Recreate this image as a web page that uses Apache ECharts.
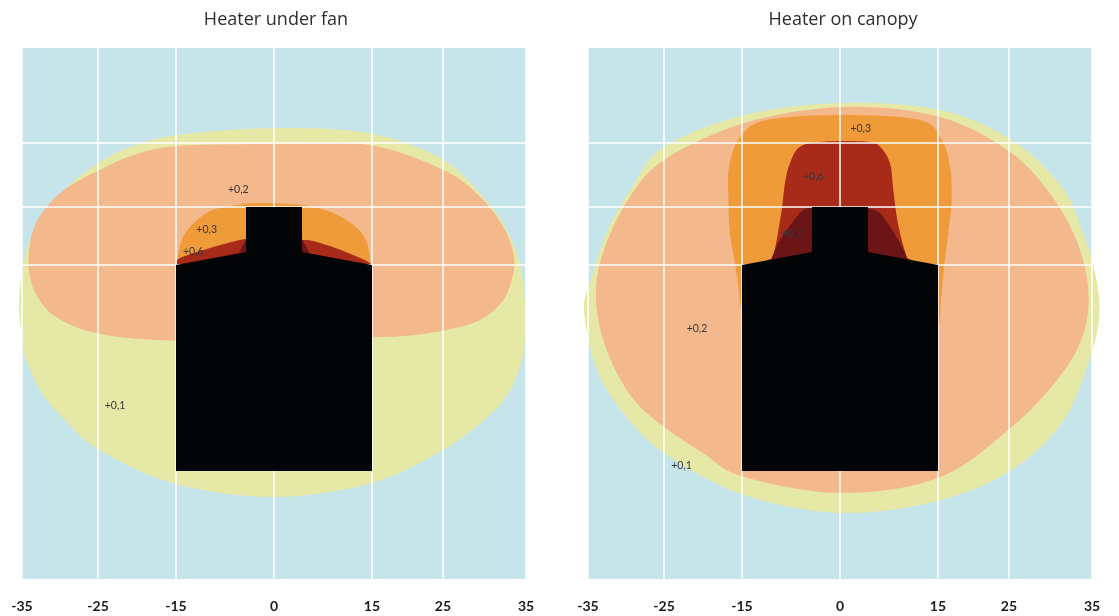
<!DOCTYPE html>
<html>
<head>
<meta charset="utf-8">
<script src="https://cdn.jsdelivr.net/npm/echarts@6/dist/echarts.min.js"></script>
<style>html,body{margin:0;padding:0;background:#fff}#c{width:1119px;height:616px}</style>
</head>
<body>
<div id="c"></div>
<script>
// ---------- data ----------
const panelTitles = ['Heater under fan', 'Heater on canopy'];
const xTickLabels = ['-35', '-25', '-15', '0', '15', '25', '35'];
const xTickValues = [-35, -24.44, -13.61, 0, 13.61, 23.47, 35];
const yGridValues = [43.61, 51.67, 60.56];

const bodyOutline = [[-13.61, 43.61], [-3.89, 45.42], [-3.89, 51.67], [3.89, 51.67], [3.89, 45.42], [13.61, 43.61], [13.61, 15.0], [-13.61, 15.0]];

// Heater under fan
const fanLevel01 = [[0.14, 62.64], [13.33, 61.9], [23.51, 58.19], [30, 51.94], [32.78, 47.54], [34.17, 43.85], [34.72, 39.68], [35, 35.97], [34.44, 30.42], [32.78, 26.25], [30, 22.78], [23.47, 17.92], [13.61, 13.33], [0.14, 11.39], [-13.61, 13.19], [-24.44, 18.06], [-29.72, 22.78], [-32.5, 26.25], [-34.72, 31.35], [-35.18, 35.04], [-35.42, 37.82], [-35.18, 41.53], [-34.49, 45.24], [-33.33, 48.47], [-31.49, 51.49], [-28.71, 54.49], [-24.44, 57.74], [-19.9, 60.04], [-13.43, 61.67]];
const fanLevel02 = [[-13.47, 60.14], [0.14, 60.42], [13.33, 60.28], [23.51, 56.81], [28.61, 53.1], [31.85, 48.93], [33.24, 45.24], [33.24, 42.46], [31.85, 38.75], [28.61, 35.97], [23.51, 34.49], [17.96, 33.75], [13.33, 33.57], [0.14, 33.19], [-13.43, 33.1], [-19.9, 33.43], [-24.44, 34.13], [-28.24, 35.28], [-31.49, 37.36], [-33.33, 40.14], [-34.03, 42.92], [-34.03, 45.24], [-33.47, 48.47], [-32.08, 51.03], [-29.72, 53.61], [-26.94, 55.42], [-24.44, 56.67], [-19.86, 58.75]];
const fanLevel03 = [[-13.25, 42.5], [-13.51, 43.89], [-12.64, 47.5], [-10.69, 49.86], [-8.47, 51.25], [-5.14, 51.94], [-1.94, 52.22], [4.03, 51.94], [8.19, 50.83], [11.53, 48.75], [12.92, 46.67], [13.33, 44.31], [13.47, 43.19], [13.25, 42.5], [11, 39], [0.14, 38], [-11, 39]];
const fanLevel06 = [[-13.25, 42.9], [-13.51, 43.61], [-13.06, 44.58], [-8.89, 45.97], [-4.72, 47.08], [-3.33, 47.08], [0.14, 46.0], [4.03, 47.08], [7.32, 46.39], [10.97, 45.0], [13.33, 43.89], [13.47, 43.33], [13.25, 42.9], [11, 40.5], [0.14, 40], [-11, 40.5]];
const fanLevel07a = [[-4.86, 45.3], [-3.89, 47.2], [-3.89, 45.42]];
const fanLevel07b = [[3.89, 47.2], [5.0, 45.2], [3.89, 45.42]];
const fanLabels = [[-4.96, 54.03, '+0,2'], [-9.35, 48.57, '+0,3'], [-11.21, 45.46, '+0,6'], [-22.08, 24.07, '+0,1']];

// Heater on canopy
const canopyLevel01 = [[0.42, 66.11], [13.89, 65.14], [23.83, 60.97], [30.81, 54.44], [33.75, 48.06], [35.56, 41.94], [35.97, 35.97], [34.31, 29.44], [30.83, 21.67], [23.83, 15.14], [13.97, 10.97], [0.42, 9.17], [-13.33, 11.67], [-24.44, 17.5], [-30.42, 23.47], [-33.89, 29.44], [-35.56, 37.36], [-34.44, 41.94], [-32.42, 48.06], [-28.89, 54.44], [-24.44, 60], [-13.25, 64.44]];
const canopyLevel02 = [[0.42, 65.56], [13.89, 64.17], [23.83, 59.17], [29.81, 52.64], [33.33, 45.69], [34.54, 38.75], [33.33, 32.78], [29.81, 27.22], [23.83, 21.11], [13.97, 14.17], [0.42, 11.94], [-13.33, 14.17], [-19.03, 17.5], [-24.44, 21.11], [-28.93, 25.28], [-32.42, 31.81], [-33.89, 38.75], [-32.92, 45.28], [-29.44, 52.64], [-24.44, 58.19], [-13.25, 63.33]];
const canopyLevel03 = [[0.24, 64.44], [11.11, 63.75], [14.13, 60.97], [15.28, 57.26], [15.51, 52.64], [15.04, 48.06], [14.44, 43.33], [14.03, 38.75], [13.5, 34.5], [11, 30], [0, 29], [-11, 30], [-13.4, 34.5], [-13.75, 37.5], [-14.44, 42.92], [-15.28, 48.06], [-15.49, 52.64], [-15.42, 57.22], [-13.89, 61.39], [-10.18, 63.75]];
const canopyLevel06 = [[-2.32, 60.74], [3.71, 60.74], [5.56, 60.04], [6.94, 57.78], [7.36, 54.44], [7.88, 50.32], [8.57, 47.08], [9.26, 44.76], [9.44, 44.03], [0.42, 42.92], [-9.44, 44.03], [-9.31, 44.72], [-8.79, 47.08], [-8.1, 51.25], [-7.64, 55], [-6.94, 57.78], [-5.56, 60.04]];
const canopyLevel07a = [[-9.7, 43.6], [-9.58, 44.31], [-8.33, 47.08], [-6.01, 50.32], [-4.62, 51.49], [-3.2, 51.45], [-2.5, 47.0], [-5.0, 44.0]];
const canopyLevel07b = [[3.2, 51.4], [3.89, 51.53], [5.56, 50.83], [6.94, 48.93], [8.33, 46.67], [9.31, 44.58], [9.4, 43.8], [5.0, 44.0], [2.5, 47.0]];
const canopyLabels = [[2.88, 62.6, '+0,3'], [-3.71, 55.88, '+0,6'], [-6.71, 48.01, '+0,7'], [-19.86, 34.72, '+0,2'], [-22.01, 15.74, '+0,1']];

// ---------- styles ----------
const colors = {
  bg: '#c6e5ea', l01: '#e6e9a6', l02: '#f3b88b', l03: '#f09b39',
  l06: '#a82a18', l07: '#6b1517', body: '#030406', grid: '#ffffff'
};

// closed Catmull-Rom curve through the projected outline points
function splinePath(p) {
  const n = p.length, t = 1 / 6;
  const f = function (v) { return v.toFixed(2); };
  let d = 'M' + f(p[0][0]) + ' ' + f(p[0][1]);
  for (let i = 0; i < n; i++) {
    const p0 = p[(i - 1 + n) % n], p1 = p[i], p2 = p[(i + 1) % n], p3 = p[(i + 2) % n];
    const c1x = p1[0] + (p2[0] - p0[0]) * t, c1y = p1[1] + (p2[1] - p0[1]) * t;
    const c2x = p2[0] - (p3[0] - p1[0]) * t, c2y = p2[1] - (p3[1] - p1[1]) * t;
    d += 'C' + f(c1x) + ' ' + f(c1y) + ' ' + f(c2x) + ' ' + f(c2y) + ' ' + f(p2[0]) + ' ' + f(p2[1]);
  }
  return d + 'Z';
}

function polySeries(idx, pts, fill, z, smooth) {
  return {
    type: 'custom', xAxisIndex: idx, yAxisIndex: idx, z: z, silent: true,
    animation: false, clip: false,
    data: pts,
    renderItem: function (params, api) {
      if (params.dataIndex !== 0) return null;
      const points = pts.map(function (p) { return api.coord(p); });
      if (smooth) {
        return { type: 'path', shape: { pathData: splinePath(points) }, style: { fill: fill } };
      }
      return { type: 'polygon', shape: { points: points }, style: { fill: fill } };
    }
  };
}
function labelSeries(idx, labels) {
  return {
    type: 'custom', xAxisIndex: idx, yAxisIndex: idx, z: 6, silent: true,
    animation: false, clip: false,
    data: labels,
    renderItem: function (params, api) {
      const p = api.coord([api.value(0), api.value(1)]);
      return { type: 'text', x: p[0], y: p[1],
        style: { text: labels[params.dataIndex][2], fill: '#383838', font: '10.5px Lato, sans-serif', align: 'center', verticalAlign: 'middle' } };
    }
  };
}

const panels = [
  { levels: [[fanLevel01, colors.l01], [fanLevel02, colors.l02], [fanLevel03, colors.l03], [fanLevel06, colors.l06], [fanLevel07a, colors.l07], [fanLevel07b, colors.l07]], labels: fanLabels },
  { levels: [[canopyLevel01, colors.l01], [canopyLevel02, colors.l02], [canopyLevel03, colors.l03], [canopyLevel06, colors.l06], [canopyLevel07a, colors.l07], [canopyLevel07b, colors.l07]], labels: canopyLabels }
];

const gridLefts = [22, 588];
const series = [];
panels.forEach(function (pn, i) {
  pn.levels.forEach(function (lv) { series.push(polySeries(i, lv[0], lv[1], 2, lv[0].length > 3)); });
  series.push(polySeries(i, bodyOutline, colors.body, 5, false));
  series.push(labelSeries(i, pn.labels));
});

function tickLabel(v) {
  let best = 0;
  xTickValues.forEach(function (t, k) { if (Math.abs(t - v) < Math.abs(xTickValues[best] - v)) best = k; });
  return xTickLabels[best];
}

const option = {
  animation: false,
  title: panelTitles.map(function (t, i) {
    return { text: t, left: i ? 843 : 276, top: 11, textAlign: 'center', padding: 0,
      textStyle: { fontFamily: 'Open Sans', fontSize: 18, fontWeight: 'normal', color: '#2e2e2e' } };
  }),
  grid: gridLefts.map(function (l) {
    return { left: l, width: 504, top: 48, height: 531, show: true, backgroundColor: colors.bg, borderWidth: 0, containLabel: false };
  }),
  xAxis: [0, 1].map(function (i) {
    return { gridIndex: i, type: 'value', min: -35, max: 35, z: 3,
      axisLine: { show: false },
      axisTick: { show: false, customValues: xTickValues },
      axisLabel: { customValues: xTickValues, formatter: tickLabel, margin: 20, fontSize: 14, fontFamily: 'Lato', fontWeight: 'bold', color: '#1b1b1b' },
      splitLine: { show: true, lineStyle: { color: colors.grid, width: 1.5 } } };
  }),
  yAxis: [0, 1].map(function (i) {
    return { gridIndex: i, type: 'value', min: 0, max: 73.75, z: 3,
      axisLine: { show: false },
      axisTick: { show: false, customValues: yGridValues },
      axisLabel: { show: false, customValues: yGridValues },
      splitLine: { show: true, lineStyle: { color: colors.grid, width: 1.5 } } };
  }),
  series: series
};

const chart = echarts.init(document.getElementById('c'), null, { renderer: 'canvas' });
chart.setOption(option);
</script>
</body>
</html>
